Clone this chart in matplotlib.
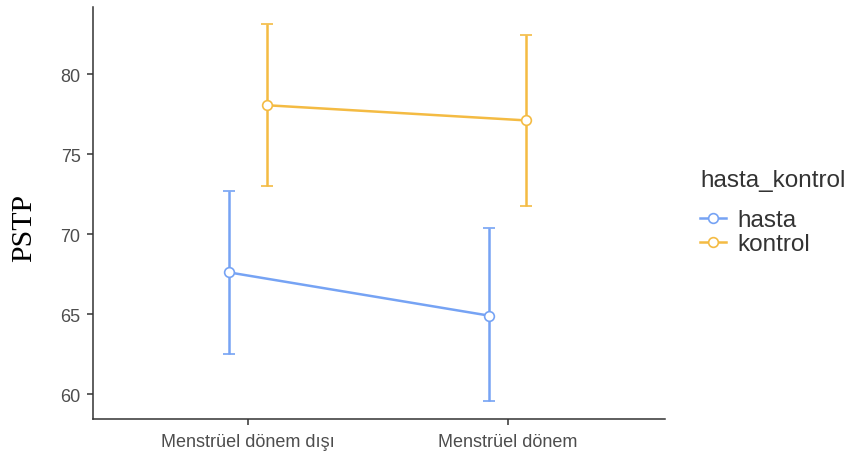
import matplotlib.pyplot as plt
from matplotlib.lines import Line2D
import numpy as np

plt.rcParams['font.family'] = ['Liberation Sans', 'DejaVu Sans']

periods = ['Menstrüel dönem dışı', 'Menstrüel dönem']
groups = ['hasta', 'kontrol']
colors = {'hasta': '#76a3f4', 'kontrol': '#f4bb43'}

# means and error bar bounds
mean = {'hasta': [67.6, 64.9], 'kontrol': [78.05, 77.1]}
lower = {'hasta': [62.5, 59.55], 'kontrol': [73.0, 71.75]}
upper = {'hasta': [72.7, 70.35], 'kontrol': [83.1, 82.45]}

dodge = {'hasta': -0.072, 'kontrol': 0.072}

fig = plt.figure(figsize=(8.48, 4.6), dpi=100)
ax = fig.add_axes([0.1097, 0.087, 0.674, 0.896])

x = np.arange(1, len(periods) + 1)
for g in groups:
    xs = x + dodge[g]
    m = np.array(mean[g])
    err = [m - np.array(lower[g]), np.array(upper[g]) - m]
    ax.errorbar(xs, m, yerr=err, color=colors[g], lw=1.8, elinewidth=1.8,
                capsize=4.5, capthick=1.8, marker='o', markersize=7,
                markerfacecolor='white', markeredgecolor=colors[g],
                markeredgewidth=1.2)

ax.set_xlim(0.404, 2.604)
ax.set_ylim(58.44, 84.2)
ax.set_xticks(x)
ax.set_xticklabels(periods)
ax.set_yticks([60, 65, 70, 75, 80])
ax.tick_params(colors='#333333', labelcolor='#4d4d4d', labelsize=13,
               length=4, width=1.1)
ax.tick_params(axis='x', pad=6)
ax.tick_params(axis='y', pad=5)
for s in ['top', 'right']:
    ax.spines[s].set_visible(False)
for s in ['left', 'bottom']:
    ax.spines[s].set_color('#333333')
    ax.spines[s].set_linewidth(1.1)

fig.text(0.028, 1 - 228 / 460, 'PSTP', family=['Liberation Serif'],
         fontsize=21.5, rotation=90, va='center', ha='center')

# legend title drawn separately to get the ggplot-like gap
fig.text(700 / 848, 1 - 181 / 460, 'hasta_kontrol', fontsize=17.5,
         color='#333333', va='center', ha='left')
handles = [Line2D([], [], color=colors[g], lw=1.8, marker='o', markersize=7,
                  markerfacecolor='white', markeredgecolor=colors[g],
                  markeredgewidth=1.2) for g in groups]
leg = fig.legend(handles, groups, loc='upper left',
                 bbox_to_anchor=(700 / 848, 1 - 210 / 460),
                 frameon=False, fontsize=17.5, handlelength=1.05,
                 handletextpad=0.5, labelspacing=0.1, borderpad=0,
                 borderaxespad=0)
for t in leg.get_texts():
    t.set_color('#333333')

plt.savefig('out.png', dpi=100)
